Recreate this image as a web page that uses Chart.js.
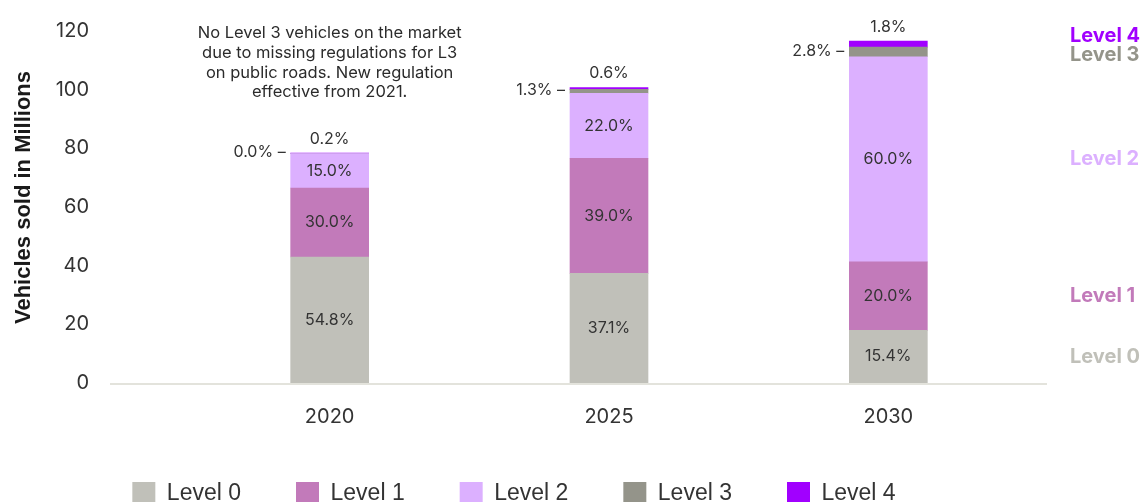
<!DOCTYPE html>
<html>
<head>
<meta charset="utf-8">
<title>Vehicles sold by automation level</title>
<script src="https://cdn.jsdelivr.net/npm/chart.js@4.4.1/dist/chart.umd.min.js"></script>
<style>
    html, body { margin: 0; padding: 0; background: #fff; }
    #wrap { width: 1146px; height: 502px; }
</style>
</head>
<body>
<div id="wrap"><canvas id="myChart"></canvas></div>
<script>
// vehicles sold per year (millions) and the share of each automation level (%)
const years = ['2020', '2025', '2030'];
const totalMillions = [78.4, 100.7, 116.6];
const level0 = [54.8, 37.1, 15.4];
const level1 = [30.0, 39.0, 20.0];
const level2 = [15.0, 22.0, 60.0];
const level3 = [0.0, 1.3, 2.8];
const level4 = [0.2, 0.6, 1.8];
const levelNames = ['Level 0', 'Level 1', 'Level 2', 'Level 3', 'Level 4'];
const levelColors = ['#c0c0b9', '#c27aba', '#dcb0ff', '#94948a', '#a100ff'];
const yTicks = [0, 20, 40, 60, 80, 100, 120];
const noteLines = [
    'No Level 3 vehicles on the market',
    'due to missing regulations for L3',
    'on public roads. New regulation',
    'effective from 2021.'
];

const shares = [level0, level1, level2, level3, level4];

function toMillions(share) {
    return share.map((s, i) => s * totalMillions[i] / 100);
}

// light baseline under the bars, wider than the plot area
const baseline = {
    id: 'baseline',
    beforeDatasetsDraw(chart) {
        const ctx = chart.ctx;
        const y = chart.scales.y.getPixelForValue(0) + 1;
        ctx.save();
        ctx.strokeStyle = '#e3e3dc';
        ctx.lineWidth = 2;
        ctx.beginPath();
        ctx.moveTo(110, y);
        ctx.lineTo(1047, y);
        ctx.stroke();
        ctx.restore();
    }
};

// percentage labels on / next to each segment
const segmentLabels = {
    id: 'segmentLabels',
    afterDatasetsDraw(chart) {
        const ctx = chart.ctx;
        ctx.save();
        ctx.font = '16px Inter';
        ctx.fillStyle = '#333333';
        chart.data.datasets.forEach((ds, di) => {
            const meta = chart.getDatasetMeta(di);
            meta.data.forEach((bar, i) => {
                const p = bar.getProps(['x', 'y', 'base', 'width'], true);
                const text = ds.shares[i].toFixed(1) + '%';
                if (di <= 2) {
                    ctx.textAlign = 'center';
                    ctx.textBaseline = 'middle';
                    ctx.fillText(text, p.x, (p.y + p.base) / 2);
                } else if (di === 3) {
                    ctx.textAlign = 'right';
                    ctx.textBaseline = 'middle';
                    ctx.fillText(text + ' \u2013', p.x - p.width / 2 - 5, (p.y + p.base) / 2 - 1);
                } else {
                    ctx.textAlign = 'center';
                    ctx.textBaseline = 'bottom';
                    ctx.fillText(text, p.x, p.y - 6);
                }
            });
        });

        // note above the first bar
        const xNote = chart.scales.x.getPixelForValue(0);
        ctx.font = '16.5px Inter';
        ctx.fillStyle = '#2b2b2b';
        ctx.textAlign = 'center';
        ctx.textBaseline = 'middle';
        noteLines.forEach((line, k) => {
            ctx.fillText(line, xNote, 33 + k * 19.8);
        });
        ctx.restore();
    }
};

// level names at the right, next to the last bar's segments
const sideLabels = {
    id: 'sideLabels',
    afterDatasetsDraw(chart) {
        const ctx = chart.ctx;
        const nudge = [0, 0, 0, 3, -8];
        ctx.save();
        ctx.font = 'bold 20px Inter';
        ctx.textAlign = 'left';
        ctx.textBaseline = 'middle';
        chart.data.datasets.forEach((ds, di) => {
            const meta = chart.getDatasetMeta(di);
            const bar = meta.data[meta.data.length - 1];
            const p = bar.getProps(['y', 'base'], true);
            ctx.fillStyle = levelColors[di];
            ctx.fillText(ds.label, chart.chartArea.right + 42, (p.y + p.base) / 2 + nudge[di]);
        });
        ctx.restore();
    }
};

const ctx = document.getElementById('myChart').getContext('2d');
new Chart(ctx, {
    type: 'bar',
    data: {
        labels: years,
        datasets: levelNames.map((name, k) => ({
            label: name,
            data: toMillions(shares[k]),
            shares: shares[k],
            backgroundColor: levelColors[k],
            borderWidth: 0,
            barThickness: 78
        }))
    },
    options: {
        responsive: true,
        maintainAspectRatio: false,
        animation: false,
        layout: {
            padding: { top: 12, right: 118, bottom: -13, left: 0 }
        },
        plugins: {
            tooltip: { enabled: false },
            legend: {
                position: 'bottom',
                labels: {
                    boxWidth: 23,
                    boxHeight: 23,
                    padding: 55,
                    color: '#333333',
                    font: { family: 'Liberation Sans', size: 23 }
                }
            }
        },
        scales: {
            x: {
                stacked: true,
                afterFit: function (scale) { scale.height = 44; },
                grid: { display: false, drawTicks: false },
                border: { display: false },
                ticks: {
                    padding: 22,
                    color: '#333333',
                    font: { family: 'Inter', size: 20 }
                }
            },
            y: {
                stacked: true,
                min: 0,
                max: 126.5,
                afterBuildTicks: function (scale) {
                    scale.ticks = yTicks.map(v => ({ value: v }));
                },
                afterFit: function (scale) { scale.width = 190; },
                // invisible tick marks keep the labels away from the bars
                grid: { display: false, drawTicks: true, tickLength: 101 },
                border: { display: false },
                ticks: {
                    padding: 0,
                    color: '#333333',
                    font: { family: 'Inter', size: 20 }
                },
                title: {
                    display: true,
                    text: 'Vehicles sold in Millions',
                    color: '#1a1a1a',
                    font: { family: 'Liberation Sans', size: 22, weight: 'bold' },
                    padding: { top: 11, bottom: 0 }
                }
            }
        }
    },
    plugins: [baseline, segmentLabels, sideLabels]
});
</script>
</body>
</html>
